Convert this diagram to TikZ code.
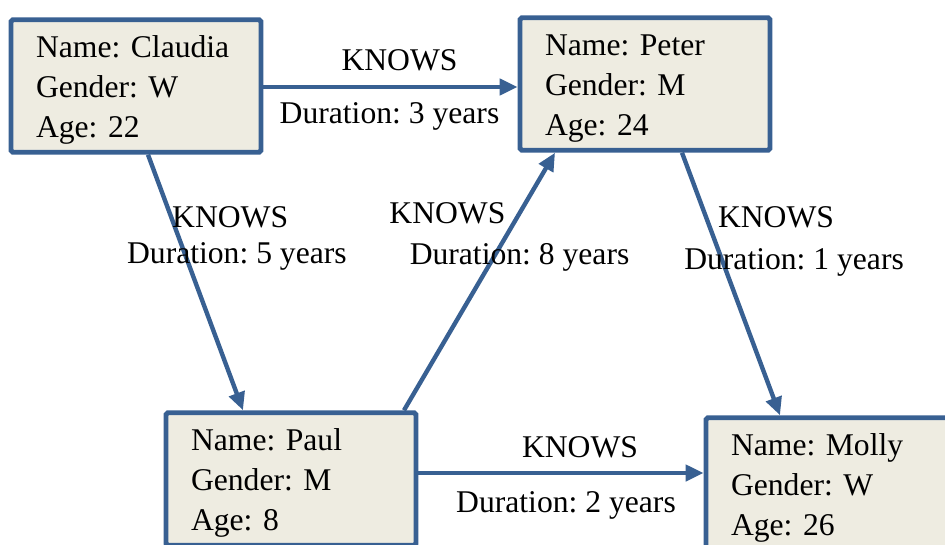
\documentclass[tikz,border=0pt]{standalone}
\usepackage{fontspec}
\setmainfont{Liberation Serif}
\usepackage{xcolor}
\usetikzlibrary{positioning, arrows.meta}
\definecolor{myblue}{RGB}{56,96,146}
\definecolor{myfill}{RGB}{238,236,225}
\frenchspacing

\begin{document}
\begin{tikzpicture}[
  x=0.02cm, y=-0.02cm,
  font=\fontsize{18}{22.8}\selectfont,
  person/.style={rectangle, rounded corners=1pt,
    draw=myblue, fill=myfill, line width=2.8pt,
    text width=4cm, align=left, inner xsep=0.5cm,
    minimum width=5cm, minimum height=2.65cm,
    execute at begin node={\rule{0pt}{0.6cm}}},
  knows/.style={-{Triangle[length=0.36cm,width=0.32cm]},
    draw=myblue, line width=2.5pt},
  lbl/.style={inner sep=0pt, text=black}
]
\clip (0,0) rectangle (945,544);

\node[person] (cl) at (136,86)
  {Name: Claudia\\Gender: W\\Age: 22};
\node[person] (pe) at (645,84)
  {Name: Peter\\Gender: M\\Age: 24};
\node[person] (pa) at (291,479)
  {Name: Paul\\Gender: M\\Age: 8};
\node[person] (mo) at (831,484)
  {Name: Molly\\Gender: W\\Age: 26};

% Claudia -> Peter
\draw[knows] (cl.east |- 0,87) -- (pe.west |- 0,87)
  node[lbl, pos=0.5, xshift=0.18cm, yshift=0.54cm] (k1) {KNOWS}
  node[lbl, pos=0.5, xshift=-0.02cm, yshift=-0.58cm] (d1) {Duration: 3 years};

% Claudia -> Paul
\draw[knows] ([xshift=0.24cm]cl.south) -- ([xshift=-0.96cm]pa.north)
  node[lbl, pos=0.244, xshift=1.18cm] (k2) {KNOWS}
  node[lbl, pos=0.399, xshift=1.02cm] (d2) {Duration: 5 years};

% Paul -> Peter
\draw[knows] ([xshift=2.26cm]pa.north) -- ([xshift=-1.8cm]pe.south)
  node[lbl, pos=0.764, xshift=-1.44cm] (k3) {KNOWS}
  node[lbl, pos=0.593, xshift=0.52cm] (d3) {Duration: 8 years};

% Peter -> Molly
\draw[knows] ([xshift=0.74cm]pe.south) -- ([xshift=-1.02cm]mo.north)
  node[lbl, pos=0.245, xshift=1.4cm] (k4) {KNOWS}
  node[lbl, pos=0.419, xshift=1.42cm] (d4) {Duration: 1 years};

% Paul -> Molly
\draw[knows] (pa.east |- 0,473) -- (mo.west |- 0,473)
  node[lbl, pos=0.5, xshift=0.38cm, yshift=0.52cm] (k5) {KNOWS}
  node[lbl, pos=0.5, xshift=0.1cm, yshift=-0.64cm] (d5) {Duration: 2 years};
\end{tikzpicture}
\end{document}
